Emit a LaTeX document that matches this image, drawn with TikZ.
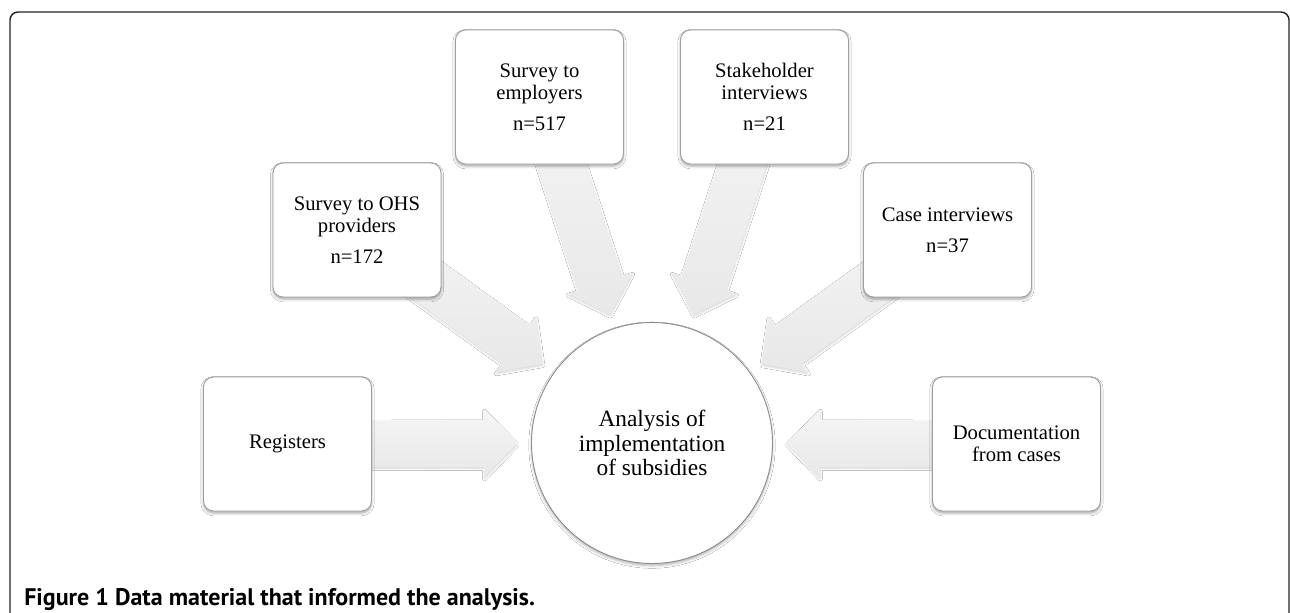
\documentclass[tikz,border=0pt]{standalone}
\usepackage{fontspec}
\setmainfont{Liberation Serif}
\newfontfamily\capfont{PT Sans}
\usetikzlibrary{calc,shadows.blur}
\pgfdeclarelayer{bg}
\pgfsetlayers{bg,main}
\tikzset{
  databox/.style={draw=black!38, line width=0.7pt, fill=white, rounded corners=7.5pt,
    minimum width=126pt, minimum height=100.5pt, inner sep=0pt, align=center,
    font=\fontsize{15.5}{16.8}\selectfont,
    blur shadow={shadow xshift=0pt, shadow yshift=-1.6pt, shadow blur radius=2pt, shadow opacity=35}},
  hubcircle/.style={circle, draw=black!45, line width=0.7pt, fill=white, minimum size=180.75pt,
    inner sep=0pt, align=center, font=\fontsize{17.5}{18.4}\selectfont,
    blur shadow={shadow xshift=0pt, shadow yshift=-1.6pt, shadow blur radius=2pt, shadow opacity=30}},
  fatarrowstyle/.style={top color=black!4, bottom color=black!9, draw=none,
    blur shadow={shadow xshift=0.3pt, shadow yshift=-1.2pt, shadow blur radius=1.5pt, shadow opacity=16}},
  framestyle/.style={draw=black!85, line width=1.1pt, rounded corners=6pt},
  captionstyle/.style={anchor=base west, inner sep=0pt, font=\capfont\bfseries\fontsize{18}{20}\selectfont}
}
\newcommand\fatarrow[2]{%
  \path ($(#2.center)!101.25pt!(#1.center)$) coordinate (tipP)
        ($(tipP)!24.75pt!(#1.center)$) coordinate (headP);
  \path[fatarrowstyle] ($(#1.center)!17.5pt!90:(tipP)$) -- ($(headP)!17.5pt!90:(tipP)$)
     -- ($(headP)!25.5pt!90:(tipP)$) -- (tipP) -- ($(headP)!25.5pt!-90:(tipP)$)
     -- ($(headP)!17.5pt!-90:(tipP)$) -- ($(#1.center)!17.5pt!-90:(tipP)$) -- cycle;
}
\begin{document}
\begin{tikzpicture}[x=0.75pt, y=-0.75pt]
\useasboundingbox (0,0) rectangle (1290,612);

\node[hubcircle] (hub) at (652,443) {Analysis of\\ implementation\\ of subsidies};
\node[databox] (reg) at (287.5,444) {Registers};
\node[databox] (ohs) at (357,230) {Survey to OHS\\ providers\\[6.5pt] n=172};
\node[databox] (emp) at (539.5,97) {Survey to\\ employers\\[6.5pt] n=517};
\node[databox] (stk) at (764.5,97) {Stakeholder\\ interviews\\[6.5pt] n=21};
\node[databox] (cas) at (947.5,230) {Case interviews\\[6.5pt] n=37};
\node[databox] (doc) at (1016.5,444) {Documentation\\ from cases};

\begin{pgfonlayer}{bg}
\fill[white] (0,0) rectangle (1290,612);
\draw[framestyle] (10,12) rectangle (1289,700);
\fatarrow{reg}{hub}
\fatarrow{ohs}{hub}
\fatarrow{emp}{hub}
\fatarrow{stk}{hub}
\fatarrow{cas}{hub}
\fatarrow{doc}{hub}
\end{pgfonlayer}

\node[captionstyle] (cap) at (24,605) {Figure 1 Data material that informed the analysis.};
\end{tikzpicture}
\end{document}
